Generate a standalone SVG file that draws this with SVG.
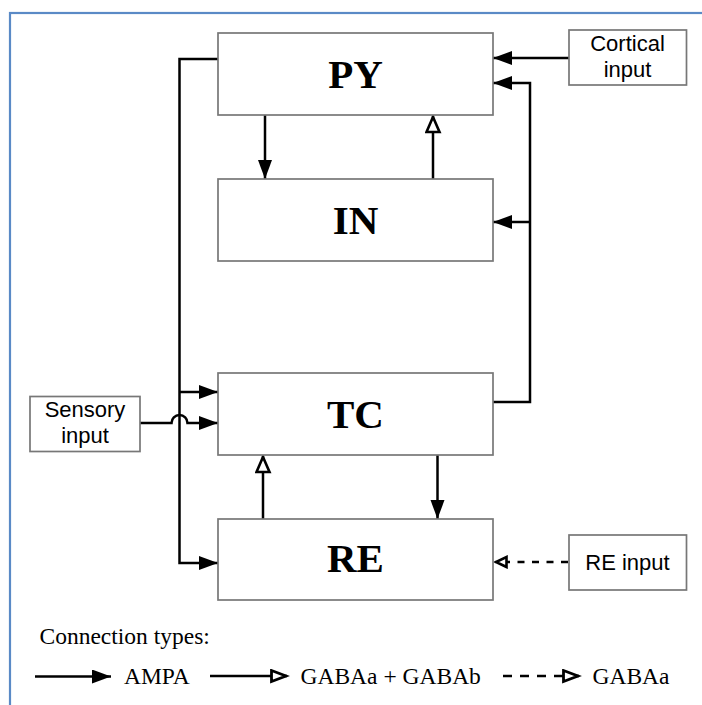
<svg xmlns="http://www.w3.org/2000/svg" width="702" height="705" viewBox="0 0 702 705">
<style>
.box{fill:#fff;stroke:#777;stroke-width:1.7}
.ln{fill:none;stroke:#000;stroke-width:2.5}
.big{font-family:"Liberation Serif","Times New Roman",serif;font-weight:bold;font-size:41px;text-anchor:middle;fill:#000}
.lbl{font-family:"Liberation Sans",Arial,sans-serif;font-size:22px;text-anchor:middle;fill:#000}
.leg{font-family:"Liberation Serif","Times New Roman",serif;font-size:23.5px;fill:#000}
</style>
<defs>
<marker id="fa" markerUnits="userSpaceOnUse" markerWidth="20" markerHeight="16" refX="19" refY="7" orient="auto">
<path d="M0,0 L19,7 L0,14 z" fill="#000"/>
</marker>
<marker id="oa" markerUnits="userSpaceOnUse" markerWidth="20" markerHeight="18" refX="17.5" refY="8" orient="auto">
<path d="M1.5,1.5 L16.5,8 L1.5,14.5 z" fill="#fff" stroke="#000" stroke-width="2.6"/>
</marker>
<marker id="os" markerUnits="userSpaceOnUse" markerWidth="16" markerHeight="14" refX="13" refY="6.5" orient="auto">
<path d="M1.5,1.5 L12,6.5 L1.5,11.5 z" fill="#fff" stroke="#000" stroke-width="2.6"/>
</marker>
<marker id="ol" markerUnits="userSpaceOnUse" markerWidth="20" markerHeight="16" refX="17" refY="7" orient="auto">
<path d="M1.5,1.5 L16,7 L1.5,12.5 z" fill="#fff" stroke="#000" stroke-width="2.8"/>
</marker>
</defs>
<rect x="0" y="0" width="702" height="705" fill="#fff"/>
<rect x="10" y="13" width="720" height="720" fill="none" stroke="#5a8ac6" stroke-width="2.2"/>

<g id="connectors">
<path class="ln" d="M218,59 L179.5,59 L179.5,563 L218,563" marker-end="url(#fa)"/>
<path class="ln" d="M179.5,392 L218,392" marker-end="url(#fa)"/>
<path class="ln" d="M140,423 L171.5,423 A8,8 0 0 1 187.5,423 L218,423" marker-end="url(#fa)"/>
<path class="ln" d="M569,58 L493,58" marker-end="url(#fa)"/>
<path class="ln" d="M493,402 L530,402 L530,83 L493,83" marker-end="url(#fa)"/>
<path class="ln" d="M530,222 L493,222" marker-end="url(#fa)"/>
<path class="ln" d="M265,115 L265,179" marker-end="url(#fa)"/>
<path class="ln" d="M433,179 L433,116" marker-end="url(#oa)"/>
<path class="ln" d="M437.5,455 L437.5,519" marker-end="url(#fa)"/>
<path class="ln" d="M263,519 L263,456" marker-end="url(#oa)"/>
<path class="ln" d="M568,562 L495,562" stroke-dasharray="7 7.5" marker-end="url(#os)"/>
</g>

<g id="PY"><rect class="box" x="218" y="33" width="275" height="82"/><text class="big" x="355.5" y="88">PY</text></g>
<g id="IN"><rect class="box" x="218" y="179" width="275" height="82"/><text class="big" x="355.5" y="234">IN</text></g>
<g id="TC"><rect class="box" x="218" y="373" width="275" height="82"/><text class="big" x="355.5" y="428">TC</text></g>
<g id="RE"><rect class="box" x="218" y="519" width="275" height="81"/><text class="big" x="355.5" y="572">RE</text></g>
<g id="cortical"><rect class="box" x="569" y="30" width="117.5" height="55"/><text class="lbl" x="627.5" y="51">Cortical</text><text class="lbl" x="627.5" y="77">input</text></g>
<g id="sensory"><rect class="box" x="30" y="396.5" width="110" height="55"/><text class="lbl" x="85" y="417">Sensory</text><text class="lbl" x="85" y="443">input</text></g>
<g id="reinput"><rect class="box" x="569" y="535" width="117.5" height="55"/><text class="lbl" x="627.5" y="570">RE input</text></g>

<g id="legend">
<text class="leg" x="39.5" y="644">Connection types:</text>
<path class="ln" d="M35,676.5 L111,676.5" marker-end="url(#fa)"/>
<text class="leg" x="124" y="684">AMPA</text>
<path class="ln" d="M210,676 L287,676" marker-end="url(#ol)"/>
<text class="leg" x="300.5" y="684">GABAa + GABAb</text>
<path class="ln" d="M503,676 L579,676" stroke-dasharray="9 8" marker-end="url(#ol)"/>
<text class="leg" x="592.5" y="684">GABAa</text>
</g>
</svg>
